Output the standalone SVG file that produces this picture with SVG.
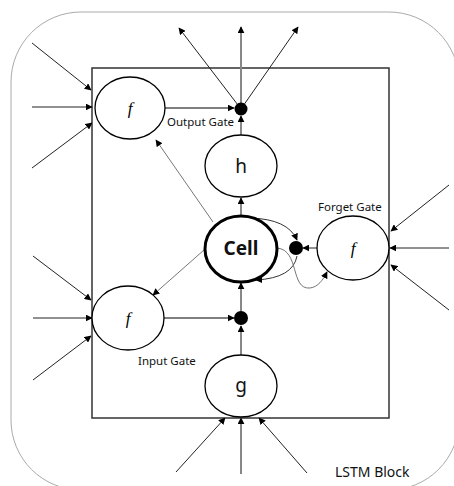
<svg xmlns="http://www.w3.org/2000/svg" width="454" height="486" viewBox="0 0 454 486">
<style>
.node{fill:#fff;stroke:#000;stroke-width:1.3}
.cell{fill:#fff;stroke:#000;stroke-width:3}
.dot{fill:#000}
.lbl{font-family:"Noto Sans",sans-serif;font-size:11.5px;fill:#111}
.big{font-family:"Noto Sans",sans-serif;font-size:19px;fill:#111;text-anchor:middle}
.fn{font-family:"Liberation Serif",serif;font-style:italic;font-size:17px;fill:#000;text-anchor:middle}
.in{stroke:#222;stroke-width:1;fill:none;marker-end:url(#ah)}
.v{stroke:#888;stroke-width:2;fill:none;marker-end:url(#ah)}
.h{stroke:#555;stroke-width:1.3;fill:none;marker-end:url(#ah)}
.g{stroke:#777;stroke-width:1;fill:none;marker-end:url(#ah)}
.c{stroke:#333;stroke-width:1;fill:none;marker-end:url(#ah)}
</style>
<defs>
<marker id="ah" viewBox="0 0 10 10" refX="9" refY="5" markerWidth="7" markerHeight="7" markerUnits="userSpaceOnUse" orient="auto">
<path d="M0,0 L10,5 L0,10 Z" fill="#000"/>
</marker>
</defs>
<rect x="11" y="12" width="448" height="478" rx="70" ry="70" fill="none" stroke="#aaa" stroke-width="1"/>
<rect id="lstm-block" x="92" y="68" width="297" height="350" fill="none" stroke="#333" stroke-width="1.5"/>
<g id="connectors">
<line class="in" x1="32" y1="43" x2="91" y2="90"/>
<line class="in" x1="32" y1="107" x2="92" y2="107"/>
<line class="in" x1="32" y1="168" x2="92" y2="123"/>
<line class="h" x1="165" y1="108" x2="234" y2="108"/>
<line class="in" x1="241" y1="109" x2="179" y2="28"/>
<line class="v" x1="241" y1="103" x2="241" y2="27"/>
<line class="in" x1="241" y1="109" x2="298" y2="27"/>
<line class="v" x1="241" y1="135" x2="241" y2="116"/>
<line class="v" x1="241" y1="216" x2="241" y2="198"/>
<line class="g" x1="213" y1="222" x2="156" y2="140"/>
<line class="g" x1="204" y1="250" x2="153" y2="295"/>
<line class="in" x1="33" y1="256" x2="91" y2="300"/>
<line class="in" x1="33" y1="318" x2="92" y2="318"/>
<line class="in" x1="33" y1="380" x2="91" y2="336"/>
<line class="h" x1="164" y1="318" x2="234" y2="318"/>
<line class="v" x1="241" y1="355" x2="241" y2="326"/>
<line class="v" x1="241" y1="311" x2="241" y2="283"/>
<line class="v" x1="241" y1="474" x2="241" y2="418"/>
<line class="in" x1="176" y1="472" x2="225" y2="418"/>
<line class="in" x1="307" y1="473" x2="259" y2="418"/>
<line class="in" x1="449" y1="185" x2="391" y2="231"/>
<line class="in" x1="449" y1="248" x2="390" y2="248"/>
<line class="in" x1="449" y1="310" x2="391" y2="265"/>
<line class="h" x1="317" y1="248" x2="303" y2="248"/>
<path class="c" d="M250,218 Q288,219 297,240"/>
<path class="c" d="M297,256 Q293,278 256,280"/>
<path class="g" d="M277,248 C300,250 290,290 310,288 C318,287 323,280 327,272"/>
</g>
<g id="output-gate">
<ellipse class="node" cx="130" cy="108" rx="35" ry="31"/>
<text class="fn" x="130" y="114">f</text>
<text class="lbl" x="167" y="126">Output Gate</text>
</g>
<g id="output-mult"><circle class="dot" cx="241" cy="109" r="6.5"/></g>
<g id="h"><ellipse class="node" cx="241" cy="166" rx="36" ry="31"/><text class="big" x="241" y="173">h</text></g>
<g id="cell"><ellipse class="cell" cx="241" cy="249" rx="36" ry="33"/><text class="big" x="241" y="255" font-weight="bold" font-size="18">Cell</text></g>
<g id="forget-mult"><circle class="dot" cx="296" cy="248" r="7"/></g>
<g id="forget-gate">
<ellipse class="node" cx="353" cy="248" rx="36" ry="32"/>
<text class="fn" x="353" y="254">f</text>
<text class="lbl" x="318" y="211">Forget Gate</text>
</g>
<g id="input-gate">
<ellipse class="node" cx="128" cy="318" rx="36" ry="32"/>
<text class="fn" x="128" y="324">f</text>
<text class="lbl" x="138" y="365">Input Gate</text>
</g>
<g id="input-mult"><circle class="dot" cx="241" cy="318" r="7"/></g>
<g id="g"><ellipse class="node" cx="241" cy="386" rx="36" ry="31"/><text class="big" x="241" y="392">g</text></g>
<text x="335" y="477" font-family="Noto Sans, sans-serif" font-size="14" fill="#111">LSTM Block</text>
</svg>
